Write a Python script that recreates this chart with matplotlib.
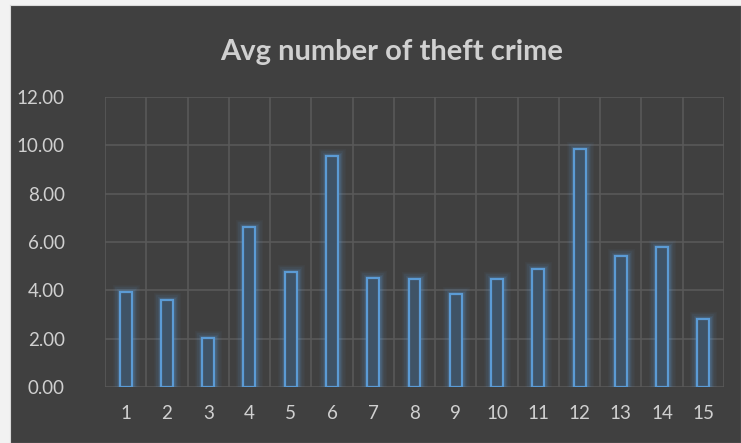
import matplotlib
matplotlib.use("Agg")
import matplotlib.pyplot as plt

categories = [str(i) for i in range(1, 16)]
values = [3.94, 3.60, 2.03, 6.61, 4.75, 9.55, 4.50, 4.47, 3.84, 4.48, 4.90, 9.83, 5.43, 5.78, 2.80]
yticks = [0, 2, 4, 6, 8, 10, 12]
title = "Avg number of theft crime"

BG = "#404040"
GRID = "#595959"
TXT = "#d0d0d0"
EDGE = "#5b9bd5"
FILL = "#3f5366"

W, H = 741, 443
fig = plt.figure(figsize=(W / 100, H / 100), dpi=100)
fig.patch.set_facecolor("#f2f2f2")
bgax = fig.add_axes([10 / W, 0, 1 - 10 / W, 1 - 5 / H], zorder=0)
bgax.set_facecolor(BG)
bgax.set_xticks([])
bgax.set_yticks([])
for s in bgax.spines.values():
    s.set_color("#d9d9d9")
    s.set_linewidth(0.8)

ax = fig.add_axes([105 / W, 1 - 387 / H, (724 - 105) / W, (387 - 97) / H], zorder=2)
ax.patch.set_alpha(0)

x = list(range(len(categories)))
# glow
for lw, a in [(11, 0.04), (9, 0.05), (7, 0.07), (5, 0.10), (3.5, 0.15)]:
    ax.bar(x, values, width=0.29, facecolor="none", edgecolor=EDGE, linewidth=lw, alpha=a, zorder=2)
ax.bar(x, values, width=0.29, facecolor=FILL, edgecolor=EDGE, linewidth=1.6, zorder=3)

ax.set_xlim(-0.5, len(categories) - 0.5)
ax.set_ylim(0, 12)
ax.set_yticks(yticks)
ax.set_yticklabels([f"{v:.2f}" for v in yticks])
ax.set_xticks(x)
ax.set_xticklabels(categories)

for b in [i - 0.5 for i in range(len(categories) + 1)]:
    ax.axvline(b, color=GRID, linewidth=1.2, zorder=1)
for t in yticks:
    ax.axhline(t, color=GRID, linewidth=1.2, zorder=1)

for s in ax.spines.values():
    s.set_visible(False)
ax.tick_params(axis="both", length=0, colors=TXT, labelsize=13.5)
ax.tick_params(axis="y", pad=29)
ax.tick_params(axis="x", pad=13)
for lab in ax.get_xticklabels() + ax.get_yticklabels():
    lab.set_fontfamily("Lato")

fig.text(392 / W, 1 - 52 / H, title, ha="center", va="center", color=TXT,
         fontsize=21, fontweight="bold", fontfamily="Lato")

fig.savefig("out.png", dpi=100, facecolor=fig.get_facecolor())
